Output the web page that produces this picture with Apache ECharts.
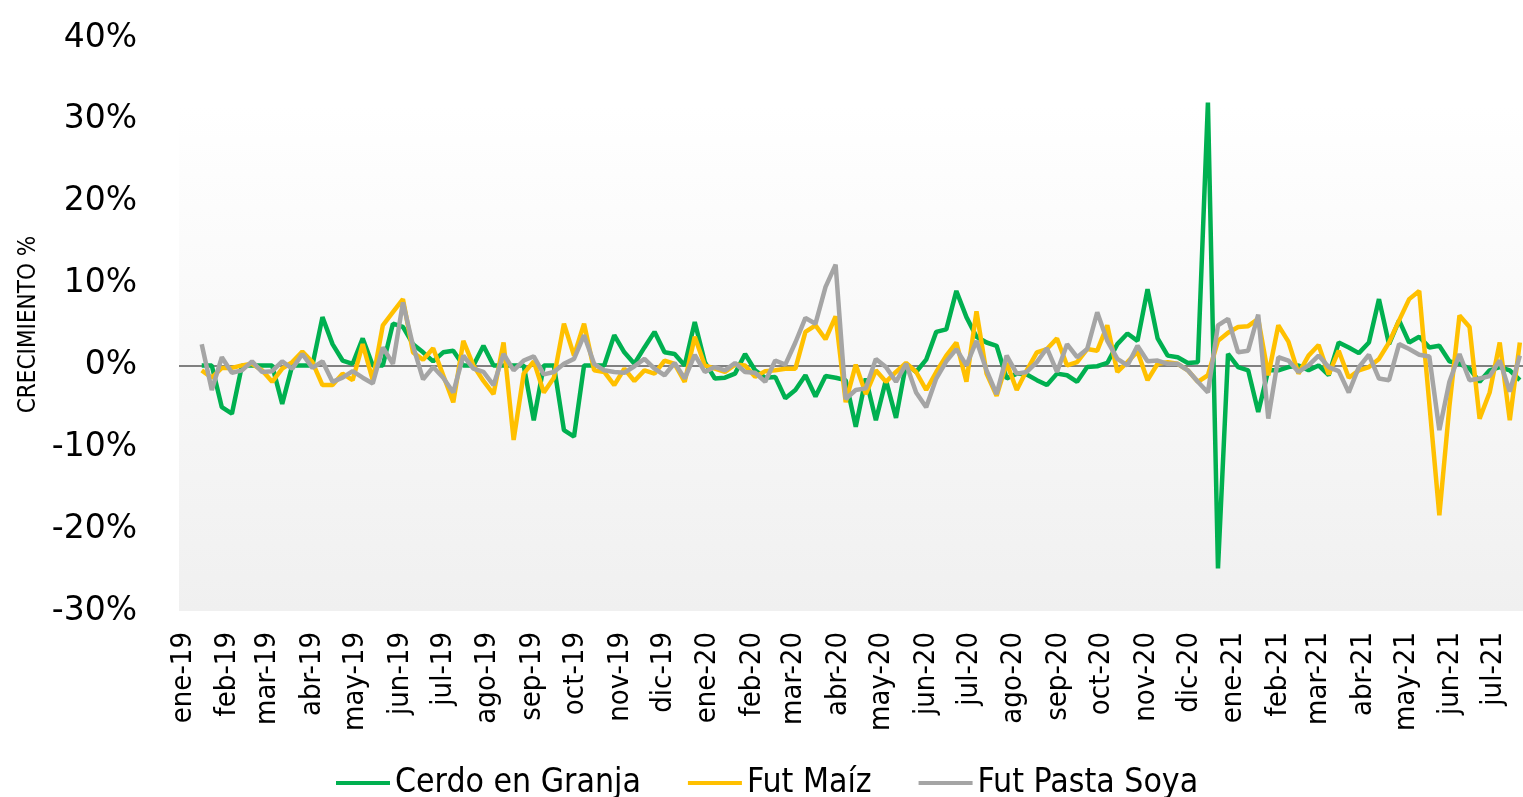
<!DOCTYPE html>
<html>
<head>
<meta charset="utf-8">
<title>Crecimiento semanal</title>
<script src="https://cdn.jsdelivr.net/npm/echarts@6/dist/echarts.min.js"></script>
<style>
  html, body { margin: 0; padding: 0; background: #fff; }
  #chart { width: 1523px; height: 797px; }
</style>
</head>
<body>
<div id="chart"></div>
<script>
const DAY = 86400000;

// weekly % change, first week 2019-01-14
const firstWeek = Date.UTC(2019, 0, 14);

const cerdo = [
  0, 0, -5.1, -5.9, 0, 0, 0, 0, -4.7, 0, 0, 0,
  5.9, 2.6, 0.6, 0.2, 3.3, 0, 0, 5.1, 4.7, 2.6, 1.6, 0.5,
  1.6, 1.8, 0, 0, 2.4, 0, 0, 0, 0, -6.7, 0, 0,
  -7.9, -8.7, 0, 0, 0, 3.7, 1.6, 0.2, 2.2, 4.1, 1.6, 1.4,
  0, 5.3, 0.4, -1.6, -1.5, -1.0, 1.4, -0.6, -1.5, -1.4, -4.0, -3.0,
  -1.2, -3.8, -1.3, -1.5, -1.8, -7.5, -1.6, -6.7, -1.8, -6.4, 0.2, -0.8,
  0.7, 4.1, 4.4, 9.1, 5.9, 3.5, 2.8, 2.4, -1.6, -1.0, -1.1, -1.8,
  -2.4, -1.0, -1.2, -2.0, -0.2, -0.1, 0.3, 2.6, 3.9, 3.0, 9.3, 3.3,
  1.2, 1.0, 0.3, 0.4, 32.1, -24.8, 1.4, -0.2, -0.6, -5.7, -0.6, -0.6,
  -0.2, 0, -0.6, 0, -1.2, 2.8, 2.2, 1.5, 2.8, 8.1, 2.6, 5.5,
  2.8, 3.5, 2.2, 2.4, 0.5, 0.2, -0.4, -2.0, -0.6, -0.2, -0.6, -1.8
];

const maiz = [
  -0.6, -1.5, -0.3, -0.3, 0, 0.2, -0.6, -2.0, -0.4, 0.4, 1.7, 0.4,
  -2.4, -2.4, -1.0, -1.8, 2.6, -1.8, 4.9, 6.5, 8.1, 1.6, 0.7, 2.1,
  -1.2, -4.5, 3.0, 0, -1.9, -3.5, 2.8, -9.1, -1.0, 0.5, -3.3, -1.5,
  5.1, 1.2, 5.1, -0.6, -0.8, -2.4, -0.4, -1.9, -0.6, -1.0, 0.6, 0.2,
  -2.0, 3.5, 0, -0.4, -0.8, 0.1, 0, -1.4, -0.7, -0.6, -0.4, -0.4,
  4.1, 4.9, 3.2, 6.0, -4.5, 0.1, -3.5, -0.6, -2.0, -0.8, 0.3, -0.8,
  -3.0, -0.8, 1.2, 2.8, -2.0, 6.6, -1.0, -3.7, 0.3, -3.0, -0.6, 1.6,
  2.0, 3.3, 0, 0.4, 2.0, 1.8, 4.9, -0.8, 0.4, 1.7, -1.8, 0.2,
  0.4, 0.2, -0.6, -2.0, -1.2, 3.0, 4.0, 4.7, 4.8, 5.7, -1.2, 4.9,
  2.9, -1.0, 1.2, 2.5, -1.1, 1.8, -1.5, -0.6, -0.2, 0.8, 2.8, 5.5,
  8.1, 9.1, -4.6, -18.3, -5.0, 6.1, 4.7, -6.5, -3.3, 2.8, -6.7, 2.8
];

const soya = [
  2.6, -3.0, 1.0, -0.9, -0.6, 0.5, -0.8, -0.7, 0.5, -0.4, 1.4, -0.3,
  0.5, -2.0, -1.5, -0.7, -1.5, -2.2, 2.2, 0.2, 7.7, 2.4, -1.7, -0.2,
  -1.5, -3.3, 1.2, -0.4, -0.8, -2.4, 1.4, -0.6, 0.6, 1.1, -1.1, -0.8,
  0.2, 0.8, 3.7, 0.2, -0.6, -0.8, -0.9, -0.1, 0.8, -0.4, -1.2, 0.3,
  -1.6, 1.3, -0.8, -0.2, -0.6, 0.3, -0.8, -0.9, -2.0, 0.6, 0.1, 2.8,
  5.8, 5.1, 9.6, 12.3, -4.1, -3.0, -2.8, 0.8, -0.2, -2.0, 0.2, -3.3,
  -5.1, -1.6, 0.5, 2.0, 0, 3.0, -0.6, -3.5, 1.2, -1.0, -0.8, 0.4,
  2.1, -0.8, 2.6, 1.0, 2.0, 6.5, 3.0, 0.8, 0, 2.4, 0.5, 0.6,
  0.2, 0.2, -0.6, -2.0, -3.3, 4.9, 5.7, 1.6, 1.8, 6.2, -6.5, 1.0,
  0.6, -0.8, 0, 1.2, -0.2, -0.7, -3.3, -0.2, 1.3, -1.6, -1.8, 2.6,
  2.0, 1.3, 1.1, -7.9, -2.0, 1.4, -1.8, -1.6, -1.3, 0.6, -3.2, 1.2
];

const monthLabels = [
  'ene-19', 'feb-19', 'mar-19', 'abr-19', 'may-19', 'jun-19', 'jul-19', 'ago-19', 'sep-19', 'oct-19', 'nov-19', 'dic-19',
  'ene-20', 'feb-20', 'mar-20', 'abr-20', 'may-20', 'jun-20', 'jul-20', 'ago-20', 'sep-20', 'oct-20', 'nov-20', 'dic-20',
  'ene-21', 'feb-21', 'mar-21', 'abr-21', 'may-21', 'jun-21', 'jul-21'
];

const yTicks = [-30, -20, -10, 0, 10, 20, 30, 40];

const seriesNames = ['Cerdo en Granja', 'Fut Maíz', 'Fut Pasta Soya'];
const seriesColors = ['#00B050', '#FFC000', '#A5A5A5'];

const monthTicks = monthLabels.map((_, k) => Date.UTC(2019, k, 1));
const weekDates = cerdo.map((_, i) => firstWeek + i * 7 * DAY);
const toPoints = (values) => values.map((v, i) => [weekDates[i], v]);

const narrowFont = "'Liberation Sans Narrow', 'DejaVu Sans Condensed', 'Liberation Sans', sans-serif";

const chart = echarts.init(document.getElementById('chart'));

const option = {
  animation: false,
  grid: {
    left: 179,
    right: 0,
    top: 38,
    bottom: 186,
    show: true,
    borderWidth: 0,
    backgroundColor: new echarts.graphic.LinearGradient(0, 0, 0, 1, [
      { offset: 0, color: '#ffffff' },
      { offset: 0.12, color: '#ffffff' },
      { offset: 1, color: '#f0f0f0' },
    ]),
  },
  legend: {
    left: 331,
    top: 761,
    icon: 'rect',
    itemWidth: 54,
    itemHeight: 4,
    itemGap: 47,
    textStyle: {
      color: '#000',
      fontFamily: narrowFont,
      fontSize: 33.5,
    },
    data: seriesNames,
  },
  xAxis: {
    type: 'value',
    min: Date.UTC(2019, 0, 1) - 2.8 * DAY,
    max: Date.UTC(2019, 0, 1) + 932.2 * DAY,
    axisLine: { show: false },
    axisTick: { show: false },
    splitLine: { show: false },
    axisLabel: {
      customValues: monthTicks,
      rotate: 90,
      margin: 21,
      color: '#000',
      fontFamily: narrowFont,
      fontSize: 29,
      formatter: (value) => monthLabels[monthTicks.indexOf(value)] || '',
    },
  },
  yAxis: {
    type: 'value',
    min: yTicks[0],
    max: yTicks[yTicks.length - 1],
    interval: 10,
    name: 'CRECIMIENTO %',
    nameLocation: 'middle',
    nameRotate: 90,
    nameGap: 137,
    nameTextStyle: {
      color: '#000',
      fontFamily: narrowFont,
      fontSize: 24,
    },
    axisLine: { show: false },
    axisTick: { show: false },
    splitLine: { show: false },
    axisLabel: {
      margin: 42,
      color: '#000',
      fontFamily: "'DejaVu Sans', Verdana, sans-serif",
      fontSize: 33,
      formatter: '{value}%',
    },
  },
  series: [cerdo, maiz, soya].map((values, k) => ({
    name: seriesNames[k],
    type: 'line',
    data: toPoints(values),
    symbol: 'none',
    color: seriesColors[k],
    lineStyle: { color: seriesColors[k], width: 4.5 },
    z: 3 + k,
    markLine: k === 0 ? {
      silent: true,
      symbol: 'none',
      label: { show: false },
      lineStyle: { color: '#808080', width: 2, type: 'solid' },
      data: [{ yAxis: 0 }],
      z: 1,
    } : undefined,
  })),
};

chart.setOption(option);

window.addEventListener('resize', () => chart.resize());
</script>
</body>
</html>
